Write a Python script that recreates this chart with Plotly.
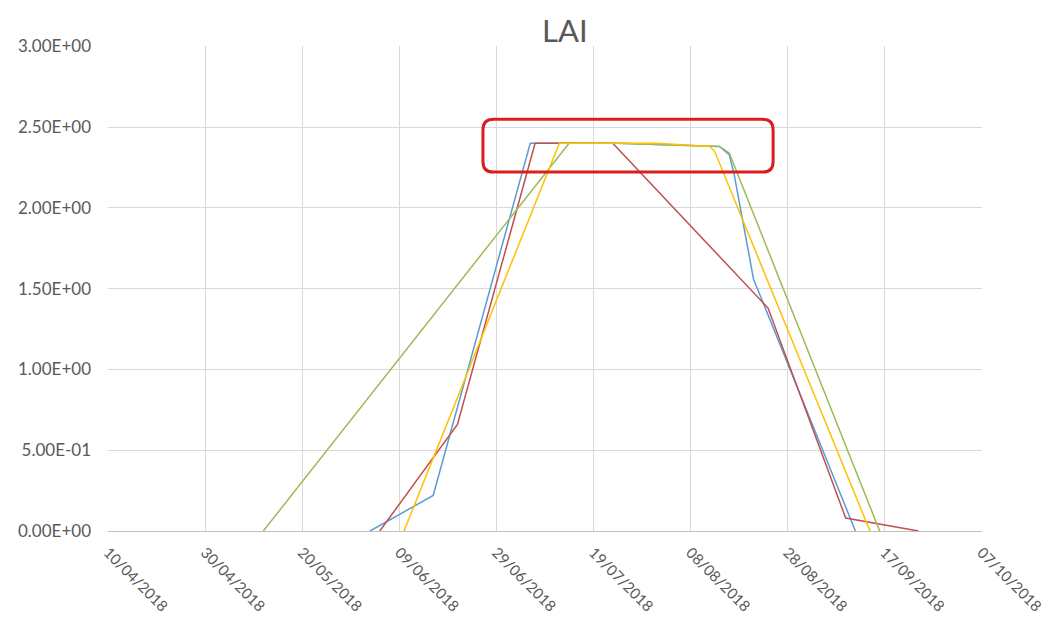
import plotly.graph_objects as go

# ---- data ----
blue_dates = ["2018-06-03", "2018-06-16", "2018-07-06", "2018-07-24", "2018-08-14", "2018-08-16", "2018-08-17", "2018-08-21", "2018-09-11"]
blue_vals = [0.0, 0.22, 2.40, 2.40, 2.38, 2.33, 2.21, 1.56, 0.0]

red_dates = ["2018-06-05", "2018-06-21", "2018-07-07", "2018-07-23", "2018-08-24", "2018-09-09", "2018-09-24"]
red_vals = [0.0, 0.66, 2.40, 2.40, 1.38, 0.08, 0.0]

green_dates = ["2018-05-12", "2018-07-14", "2018-07-24", "2018-08-14", "2018-08-16", "2018-09-16"]
green_vals = [0.0, 2.40, 2.40, 2.38, 2.34, 0.0]

yellow_dates = ["2018-06-10", "2018-07-12", "2018-08-01", "2018-08-12", "2018-08-13", "2018-09-14"]
yellow_vals = [0.0, 2.40, 2.40, 2.38, 2.35, 0.0]

x_tick_dates = ["2018-04-10", "2018-04-30", "2018-05-20", "2018-06-09", "2018-06-29",
                "2018-07-19", "2018-08-08", "2018-08-28", "2018-09-17", "2018-10-07"]
x_tick_labels = ["10/04/2018", "30/04/2018", "20/05/2018", "09/06/2018", "29/06/2018",
                 "19/07/2018", "08/08/2018", "28/08/2018", "17/09/2018", "07/10/2018"]
y_tick_vals = [0, 0.5, 1.0, 1.5, 2.0, 2.5, 3.0]
y_tick_labels = ["0.00E+00", "5.00E-01", "1.00E+00", "1.50E+00", "2.00E+00", "2.50E+00", "3.00E+00"]

FONT = "Lato"
GRAY = "#595959"

fig = go.Figure()
series = [
    (blue_dates, blue_vals, "#5B9BD5"),
    (red_dates, red_vals, "#C0504D"),
    (green_dates, green_vals, "#9BBB59"),
    (yellow_dates, yellow_vals, "#FFC000"),
]
for d, v, c in series:
    fig.add_trace(go.Scatter(x=d, y=v, mode="lines", line=dict(color=c, width=1.5),
                             showlegend=False, hoverinfo="skip"))

fig.update_layout(
    width=1046, height=618,
    margin=dict(l=108, r=64, t=46, b=87, pad=0),
    paper_bgcolor="white", plot_bgcolor="white",
    title=dict(text="LAI", x=0.540, xanchor="center", y=1 - 31 / 618, yanchor="middle",
               font=dict(family=FONT, size=31, color=GRAY)),
    font=dict(family=FONT, color=GRAY),
)
fig.update_xaxes(
    type="date", range=[x_tick_dates[0], x_tick_dates[-1] + " 02:00"],
    tickvals=x_tick_dates, ticktext=x_tick_labels, tickangle=45,
    tickfont=dict(family=FONT, size=15, color=GRAY),
    showgrid=True, gridcolor="#D9D9D9", gridwidth=1,
    showline=True, linecolor="#BFBFBF", linewidth=1,
    ticks="", zeroline=False, automargin=False, ticklabelstandoff=6,
)
fig.update_yaxes(
    range=[0, 3.002], tickvals=y_tick_vals, ticktext=y_tick_labels,
    tickfont=dict(family=FONT, size=17, color=GRAY),
    showgrid=True, gridcolor="#D9D9D9", gridwidth=1,
    showline=False, ticks="", zeroline=False, automargin=False, ticklabelstandoff=16,
)

# rounded red highlight box (paper coordinates)
x0, x1, y0, y1 = 0.429, 0.761, 0.740, 0.849
rx, ry = 0.012, 0.022
path = (f"M {x0+rx},{y0} L {x1-rx},{y0} Q {x1},{y0} {x1},{y0+ry} "
        f"L {x1},{y1-ry} Q {x1},{y1} {x1-rx},{y1} "
        f"L {x0+rx},{y1} Q {x0},{y1} {x0},{y1-ry} "
        f"L {x0},{y0+ry} Q {x0},{y0} {x0+rx},{y0} Z")
fig.add_shape(type="path", path=path, xref="paper", yref="paper",
              line=dict(color="#D91E1E", width=3), fillcolor="rgba(0,0,0,0)")

fig.write_html("out.html")
